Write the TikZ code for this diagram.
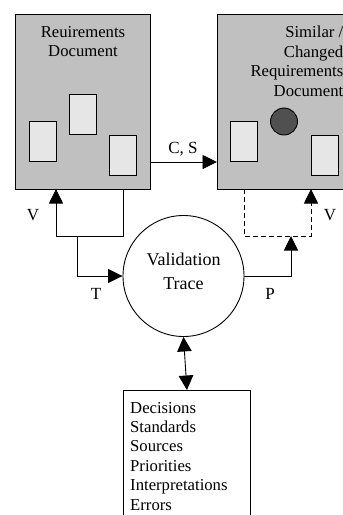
\documentclass[tikz,border=0pt]{standalone}
\usepackage{fontspec}
\setmainfont{Liberation Serif}
\usetikzlibrary{arrows.meta}
\begin{document}
\begin{tikzpicture}[x=1pt,y=-1pt,
  lw/.style={line width=0.9pt},
  docbox/.style={lw,draw=black,fill=docgray,inner sep=0pt},
  card/.style={lw,draw=black,fill=cardgray,inner sep=0pt,minimum width=27pt,minimum height=40pt},
  tip/.style={-{Triangle[length=14.5pt,width=14pt]}},
  dtip/.style={{Triangle[length=14.5pt,width=14.5pt]}-{Triangle[length=14.5pt,width=14.5pt]}},
  lbl/.style={font=\fontsize{17}{20}\selectfont,inner sep=0pt},
  doctext/.style={font=\fontsize{16.7}{19.6}\selectfont,inner sep=0pt}
]
\definecolor{docgray}{HTML}{C0C0C0}
\definecolor{cardgray}{HTML}{E6E6E6}
\definecolor{dotgray}{HTML}{505050}
\useasboundingbox (0,0) rectangle (343,515);
\clip (0,0) rectangle (343,515);
% boxes
\node[docbox,minimum width=135pt,minimum height=175pt] (ldoc) at (82.5,101.5) {};
\node[docbox,minimum width=150pt,minimum height=175pt] (rdoc) at (292,101.5) {};
\node[doctext,align=center,anchor=base] (ltxt) at (83,56.7) {Reuirements\\Document};
\node[doctext,align=right,anchor=base east,font=\fontsize{16.7}{19.8}\selectfont] (rtxt) at (343.5,96.7) {Similar /\\Changed\\Requirements\\Document};
% cards
\node[card] (c1) at (42.5,141.5) {};
\node[card] (c2) at (82.5,114.5) {};
\node[card] (c3) at (123,155) {};
\node[card] (c4) at (243.5,141.5) {};
\node[card] (c5) at (324.5,155) {};
\node[lw,draw=black,fill=dotgray,circle,minimum size=27pt,inner sep=0pt] (dot) at (284,121.5) {};
% circle
\node[lw,draw=black,circle,minimum size=121pt,inner sep=0pt] (vt) at (183.5,276) {};
\node[font=\fontsize{18}{23.3}\selectfont,align=center,inner sep=0pt,anchor=base] (vttxt) at (183.5,289) {Validation\\Trace};
% bottom box
\node[lw,draw=black,fill=white,minimum width=127pt,minimum height=150pt,inner sep=0pt,anchor=north west] (list) at (123,390) {};
\node[align=left,anchor=base west,inner sep=0pt,font=\fontsize{16.7}{19.4}\selectfont] (listtxt) at (130,510) {Decisions\\Standards\\Sources\\Priorities\\Interpretations\\Errors};
% coordinates
\coordinate (csA) at (150,162);
\coordinate (csB) at (217,162);
\coordinate (l1) at (123,189);
\coordinate (l2) at (123,236);
\coordinate (l3) at (56,236);
\coordinate (l4) at (56,189);
\coordinate (t1) at (77,236);
\coordinate (t2) at (77,276);
\coordinate (p1) at (291,276);
\coordinate (p2) at (291,236);
\coordinate (d1) at (244,189);
\coordinate (d2) at (244,236);
\coordinate (d3) at (311,236);
\coordinate (d4) at (311,189);
% connectors
\draw[lw,tip] (csA) -- (csB);
\draw[lw,tip] (l1) -- (l2) -- (l3) -- (l4);
\draw[lw,tip] (t1) -- (t2) -- (vt.west);
\draw[lw,tip] (vt.east) -- (p1) -- (p2);
\draw[lw,dashed,dash pattern=on 5pt off 3pt,tip] (d1) -- (d2) -- (d3) -- (d4);
\draw[lw,dtip] (vt.south) -- (list.north);
% labels
\node[lbl] (lcs) at (183,149) {C, S};
\node[lbl] (lv1) at (33,215) {V};
\node[lbl] (lt) at (96,294) {T};
\node[lbl] (lp) at (270,294) {P};
\node[lbl] (lv2) at (330,215) {V};
\end{tikzpicture}
\end{document}
